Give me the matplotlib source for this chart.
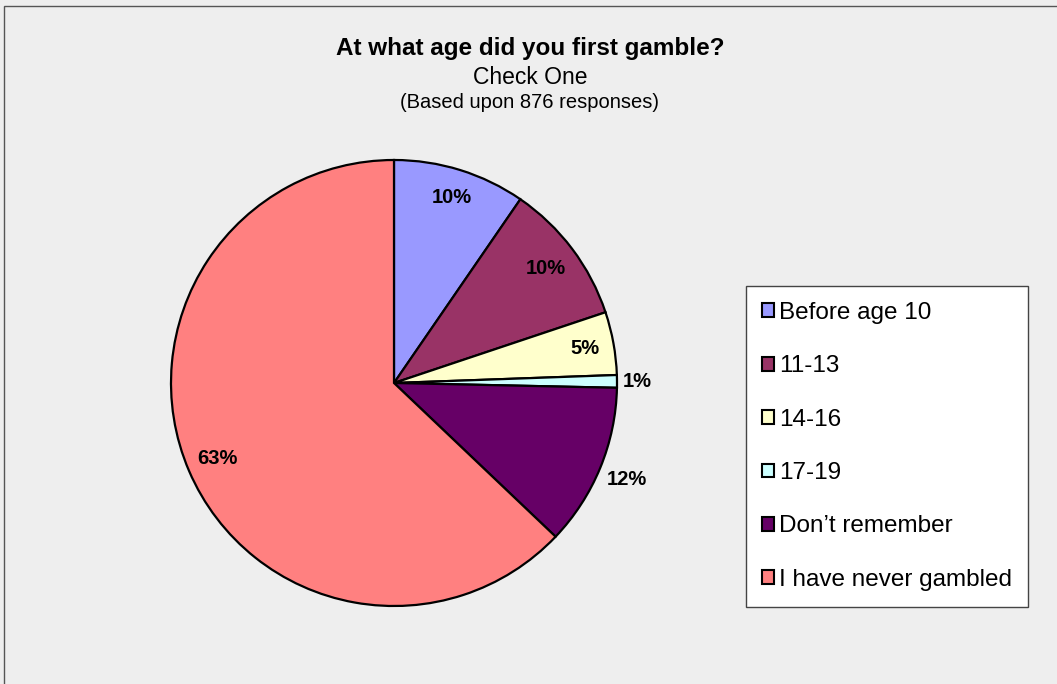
import numpy as np
import matplotlib.pyplot as plt
from matplotlib.patches import Rectangle

plt.rcParams['font.family'] = ['Liberation Sans', 'DejaVu Sans']

categories = ["Before age 10", "11-13", "14-16", "17-19", "Don\u2019t remember", "I have never gambled"]
responses = [84, 90, 40, 8, 103, 551]
pct_labels = ["10%", "10%", "5%", "1%", "12%", "63%"]
colors = ["#9999FF", "#993366", "#FFFFCC", "#CCFFFF", "#660066", "#FF8080"]
label_radius = [0.87, 0.85, 0.87, 1.09, 1.13, 0.86]

W, H = 1057, 684
fig = plt.figure(figsize=(W / 100, H / 100), dpi=100)
fig.patch.set_facecolor("#EEEEEE")

# outer chart frame (only top and left visible)
fig.add_artist(Rectangle((4 / W, -0.1), 1.2, (H - 6) / H + 0.1, transform=fig.transFigure,
                         fill=False, edgecolor="#555555", linewidth=1.0))

cx, cy, r = 394, 383, 223
ax = fig.add_axes([(cx - r) / W, (H - cy - r) / H, 2 * r / W, 2 * r / H])
ax.set_facecolor("none")
wedges, _ = ax.pie(responses, colors=colors, startangle=90, counterclock=False,
                   wedgeprops=dict(edgecolor="black", linewidth=1.6))
ax.set_xlim(-1, 1)
ax.set_ylim(-1, 1)
ax.set_aspect("equal")
ax.axis("off")

for w, lab, rr in zip(wedges, pct_labels, label_radius):
    ang = np.deg2rad((w.theta1 + w.theta2) / 2)
    ax.text(rr * np.cos(ang), rr * np.sin(ang), lab, ha="center", va="center",
            fontsize=14.5, fontweight="bold")

fig.text(530 / W, 1 - 48 / H, "At what age did you first gamble?", ha="center", va="center",
         fontsize=17.5, fontweight="bold")
fig.text(530 / W, 1 - 78 / H, "Check One", ha="center", va="center", fontsize=16.5)
fig.text(530 / W, 1 - 103 / H, "(Based upon 876 responses)", ha="center", va="center", fontsize=14.5)

leg = fig.legend(wedges, categories, loc="upper left",
                 bbox_to_anchor=(746 / W, 1 - 286 / H), frameon=True, fancybox=False,
                 framealpha=1, facecolor="white",
                 fontsize=17.5, handlelength=0.5, handleheight=0.5, handletextpad=0.2,
                 labelspacing=1.29, borderpad=0.66, borderaxespad=0)
leg.get_frame().set_edgecolor("#444444")
leg.get_frame().set_linewidth(1.0)
for h in leg.legend_handles:
    h.set_linewidth(1.5)

fig.savefig("out.png", dpi=100, facecolor=fig.get_facecolor())
